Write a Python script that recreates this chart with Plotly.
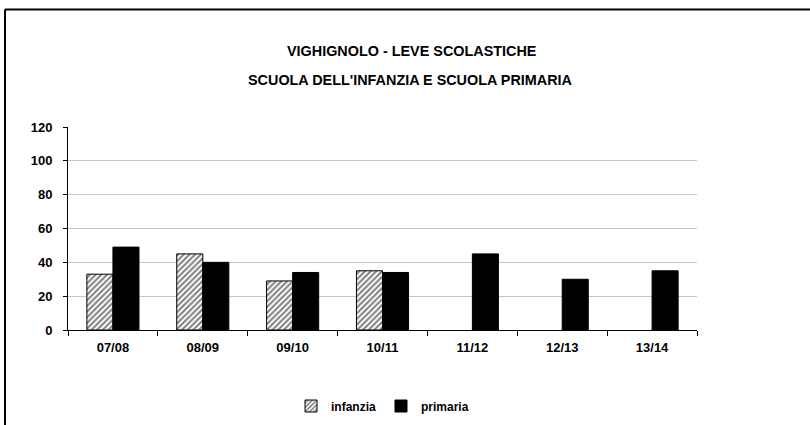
import plotly.graph_objects as go

# School-year categories and pupils enrolled
anni = ["07/08", "08/09", "09/10", "10/11", "11/12", "12/13", "13/14"]
infanzia = [33, 45, 29, 35, None, None, None]
primaria = [49, 40, 34, 34, 45, 30, 35]

W, H = 810, 425
L, R, T, B = 68, 113, 127, 95          # margins -> plot area 68..697 x 127..330
PW, PH = W - L - R, H - T - B

FONT = "Liberation Sans, Arial, sans-serif"


def px(x):
    return (x - L) / PW


def py(y):
    return (H - B - y) / PH


def bold(size):
    return dict(family=FONT, size=size, color="black", weight="bold")


fig = go.Figure()
fig.add_trace(go.Bar(
    name="infanzia", x=anni, y=infanzia,
    marker=dict(color="white", line=dict(color="black", width=1),
                pattern=dict(shape="/", fgcolor="black", bgcolor="white",
                             size=4, solidity=0.5)),
))
fig.add_trace(go.Bar(
    name="primaria", x=anni, y=primaria,
    marker=dict(color="black", line=dict(color="black", width=1)),
))

fig.update_layout(
    width=W, height=H,
    margin=dict(l=L, r=R, t=T, b=B, autoexpand=False),
    paper_bgcolor="white", plot_bgcolor="white",
    barmode="group", bargap=0.42, bargroupgap=0,
    font=bold(13),
    showlegend=True,
    legend=dict(orientation="h", x=0.5, xanchor="center", y=py(406),
                yanchor="middle", font=bold(12),
                itemwidth=30, tracegroupgap=0),
    xaxis=dict(type="category", showline=True, linecolor="black", linewidth=1,
               ticks="outside", tickson="boundaries", ticklen=5,
               tickcolor="black", showgrid=False, tickfont=bold(13),
               ticklabelstandoff=5),
    yaxis=dict(range=[0, 120], dtick=20, showline=True, linecolor="black",
               linewidth=1, ticks="outside", ticklen=4, tickcolor="black",
               showgrid=True, gridcolor="#c6c6c6", gridwidth=1,
               zeroline=False, ticklabelstandoff=8, tickfont=bold(13)),
)

# Two-line heading
fig.add_annotation(text="VIGHIGNOLO - LEVE SCOLASTICHE", xref="paper", yref="paper",
                   x=px(412), y=py(41), showarrow=False, font=bold(14.4))
fig.add_annotation(text="SCUOLA DELL'INFANZIA E SCUOLA PRIMARIA", xref="paper", yref="paper",
                   x=px(410), y=py(70), showarrow=False, font=bold(14.4))

# Chart frame (top and left edges)
fig.add_shape(type="line", xref="paper", yref="paper", x0=px(5), x1=px(820),
              y0=py(9.5), y1=py(9.5), line=dict(color="black", width=2))
fig.add_shape(type="line", xref="paper", yref="paper", x0=px(5), x1=px(5),
              y0=py(9.5), y1=py(440), line=dict(color="black", width=2))

fig.write_html("out.html")
